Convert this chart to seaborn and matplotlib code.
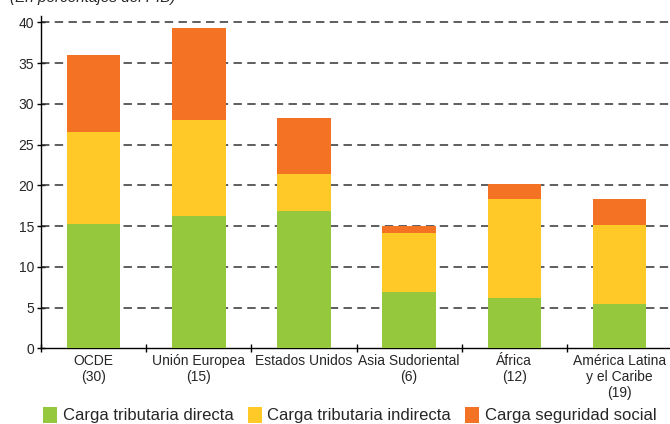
import pandas as pd
import seaborn as sns
import matplotlib.pyplot as plt
from matplotlib.patches import Patch

# Data (percent of GDP)
regions = ['OCDE\n(30)', 'Unión Europea\n(15)', 'Estados Unidos',
           'Asia Sudoriental\n(6)', 'África\n(12)', 'América Latina\ny el Caribe\n(19)']
directa = [15.2, 16.3, 16.8, 6.9, 6.2, 5.5]
indirecta = [11.3, 11.7, 4.6, 7.2, 12.1, 9.6]
seguridad = [9.5, 11.3, 6.9, 0.9, 1.9, 3.2]
series_names = ['Carga tributaria directa', 'Carga tributaria indirecta', 'Carga seguridad social']
colors = ['#96C83E', '#FFCA28', '#F47224']

df = pd.DataFrame({'region': regions, 'directa': directa,
                   'indirecta': indirecta, 'seguridad': seguridad})
df['c1'] = df['directa']
df['c2'] = df['c1'] + df['indirecta']
df['c3'] = df['c2'] + df['seguridad']

sns.set_style('white')
plt.rcParams['font.family'] = ['Liberation Sans', 'DejaVu Sans']

fig = plt.figure(figsize=(6.7, 4.24), dpi=100)
ax = fig.add_axes([0.0612, 0.1785, 0.942, 0.784])

# stacked bars: draw cumulative totals, tallest first
for col, c in zip(['c3', 'c2', 'c1'], colors[::-1]):
    sns.barplot(data=df, x='region', y=col, color=c, width=0.51,
                saturation=1, linewidth=0, ax=ax, zorder=3)

ax.set_ylim(0, 40.8)
ax.set_xlim(-0.5, 5.5)
ax.set_yticks(range(0, 45, 5))
ax.set_xlabel('')
ax.set_ylabel('')

for y in range(5, 45, 5):
    ax.axhline(y, color='#333333', lw=1.1, ls=(0, (5.5, 3.5)), zorder=1)

for s in ['top', 'right']:
    ax.spines[s].set_visible(False)
ax.spines['left'].set_color('black')
ax.spines['bottom'].set_color('black')
ax.spines['left'].set_linewidth(1)
ax.spines['bottom'].set_linewidth(1)

ax.tick_params(axis='y', direction='inout', length=6, width=1, labelsize=10,
               pad=2, left=True, color='black')
ax.tick_params(axis='x', which='major', length=0, labelsize=10, pad=4)
ax.set_xticks([i + 0.5 for i in range(-1, 6)], minor=True)
ax.tick_params(axis='x', which='minor', direction='inout', length=6,
               width=1, bottom=True, color='black')

# subtitle, cut by the top edge as in the source image
fig.text(0.015, 1.004, '(En porcentajes del PIB)', fontsize=11,
         style='italic', va='center', ha='left')

handles = [Patch(facecolor=c, edgecolor='none', label=n)
           for c, n in zip(colors, series_names)]
fig.legend(handles=handles, loc='center', bbox_to_anchor=(0.522, 0.021),
           ncol=3, frameon=False, fontsize=12, handlelength=0.85,
           handleheight=1.1, handletextpad=0.34, columnspacing=0.85,
           borderaxespad=0)

fig.savefig('out.png', dpi=100)
